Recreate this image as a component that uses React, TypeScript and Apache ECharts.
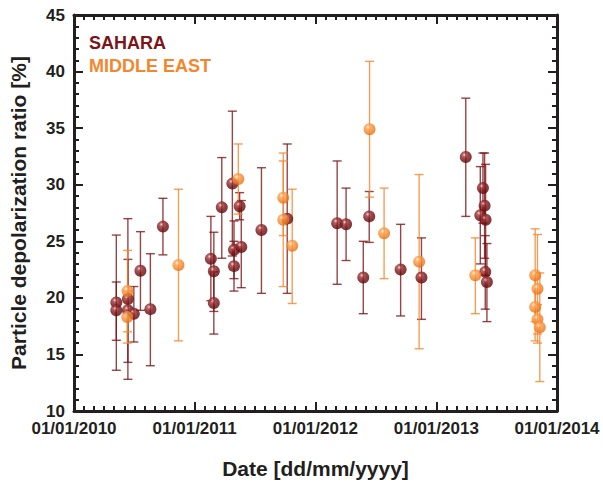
import React, { useEffect, useRef } from "react";
import * as echarts from "echarts";

// ---------- DATA ----------
const saharaDates = [
  "2010-05-09", "2010-05-09", "2010-06-13", "2010-06-13", "2010-07-01", "2010-07-21",
  "2010-08-20", "2010-09-27", "2011-02-19", "2011-02-28", "2011-02-28", "2011-03-24",
  "2011-04-25", "2011-04-30", "2011-04-30", "2011-05-17", "2011-05-22", "2011-07-22",
  "2011-10-08", "2012-03-07", "2012-04-03", "2012-05-25", "2012-06-12", "2012-09-15",
  "2012-11-17", "2013-03-31", "2013-05-14", "2013-05-22", "2013-05-27", "2013-05-30",
  "2013-05-29", "2013-06-03",
];
const saharaValues = [
  19.6, 18.9, 19.9, 18.9, 18.6, 22.4, 19.0, 26.3, 23.45, 22.35, 19.55, 28.0,
  30.1, 24.25, 22.8, 28.1, 24.5, 26.0, 27.0, 26.6, 26.5, 21.8, 27.2, 22.5,
  21.8, 32.45, 27.3, 29.7, 28.15, 26.9, 22.3, 21.4,
];
const saharaLow = [
  13.6, 16.25, 12.8, 14.3, 16.1, 18.9, 14.0, 23.8, 19.75, 18.8, 16.8, 23.5,
  23.7, 21.7, 20.6, 26.9, 20.9, 20.4, 20.4, 21.2, 23.3, 18.6, 24.9, 18.4,
  18.1, 27.2, 23.0, 26.6, 23.5, 22.0, 19.0, 17.9,
];
const saharaHigh = [
  25.55, 21.4, 27.0, 23.4, 21.0, 25.85, 23.9, 28.8, 27.2, 25.8, 22.3, 32.4,
  36.5, 26.8, 25.0, 29.3, 28.6, 31.5, 33.6, 32.1, 29.7, 25.0, 29.4, 26.5,
  25.3, 37.65, 31.6, 32.8, 32.8, 31.8, 25.5, 24.8,
];

const middleEastDates = [
  "2010-06-12", "2010-06-11", "2010-11-13", "2011-05-13", "2011-09-26", "2011-09-26",
  "2011-10-23", "2012-06-13", "2012-07-27", "2012-11-10", "2013-04-29", "2013-10-27",
  "2013-11-03", "2013-10-27", "2013-11-03", "2013-11-10",
];
const middleEastValues = [
  20.6, 18.3, 22.9, 30.5, 28.85, 26.9, 24.6, 34.9, 25.7, 23.2, 22.0, 22.0,
  20.8, 19.2, 18.1, 17.4,
];
const middleEastLow = [
  17.0, 16.0, 16.2, 27.4, 25.5, 21.0, 19.5, 28.9, 21.7, 15.5, 18.6, 17.9,
  16.0, 16.2, 16.8, 12.6,
];
const middleEastHigh = [
  24.2, 20.6, 29.6, 33.6, 32.1, 32.8, 29.6, 40.9, 29.7, 30.9, 25.3, 26.1,
  25.6, 22.2, 19.4, 22.2,
];

const yTicks = [10, 15, 20, 25, 30, 35, 40, 45];
const xMin = "2010-01-01";
const xMax = "2014-01-01";

const SAHARA = "#7d1518";
const MIDEAST = "#f5862c";
const INK = "#231f20";
const FONT = "'Liberation Sans', Arial, sans-serif";

const pad = (n: number) => (n < 10 ? "0" + n : "" + n);
const fmtDate = (v: number) => {
  const d = new Date(v);
  return pad(d.getDate()) + "/" + pad(d.getMonth() + 1) + "/" + d.getFullYear();
};

const makeErrorSeries = (name: string, dates: string[], low: number[], high: number[], color: string) => ({
  type: "custom",
  name,
  xAxisIndex: 0,
  yAxisIndex: 0,
  z: 2,
  data: dates.map((d, i) => [d, low[i], high[i]]),
  encode: { x: 0, y: [1, 2] },
  renderItem: (params: any, api: any) => {
    const x = api.value(0);
    const pLo = api.coord([x, api.value(1)]);
    const pHi = api.coord([x, api.value(2)]);
    const w = 4.5;
    const style = { stroke: color, lineWidth: 1.4, opacity: 0.8 };
    return {
      type: "group",
      children: [
        { type: "line", shape: { x1: pLo[0], y1: pLo[1], x2: pHi[0], y2: pHi[1] }, style },
        { type: "line", shape: { x1: pLo[0] - w, y1: pLo[1], x2: pLo[0] + w, y2: pLo[1] }, style },
        { type: "line", shape: { x1: pHi[0] - w, y1: pHi[1], x2: pHi[0] + w, y2: pHi[1] }, style },
      ],
    };
  },
});

const sphere = (stops: [number, string][]) =>
  new echarts.graphic.RadialGradient(
    0.38,
    0.32,
    0.72,
    stops.map(([offset, color]) => ({ offset, color }))
  );

const axisCommon = {
  axisLine: { show: true, onZero: false, lineStyle: { color: INK, width: 3 } },
  splitLine: { show: false },
};

export default function App() {
  const ref = useRef<HTMLDivElement>(null);

  useEffect(() => {
    if (!ref.current) return;
    const chart = echarts.init(ref.current, undefined, { renderer: "svg" });

    const xBase = {
      type: "time",
      min: xMin,
      max: xMax,
      minInterval: 365 * 86400000,
      maxInterval: 366 * 86400000,
      splitNumber: 4,
      ...axisCommon,
      axisTick: { show: true, inside: true, length: 9, lineStyle: { color: INK, width: 2 } },
      minorTick: { show: true, splitNumber: 12, length: 5, lineStyle: { color: INK, width: 2 } },
    };
    const yBase = {
      type: "value",
      min: yTicks[0],
      max: yTicks[yTicks.length - 1],
      interval: yTicks[1] - yTicks[0],
      ...axisCommon,
      axisTick: { show: true, inside: true, length: 9, lineStyle: { color: INK, width: 2 } },
      minorTick: { show: true, splitNumber: 5, length: 5, lineStyle: { color: INK, width: 2 } },
    };

    chart.setOption({
      animation: false,
      backgroundColor: "#ffffff",
      textStyle: { fontFamily: FONT },
      grid: { left: 72, top: 15, width: 485, height: 405, containLabel: false },
      xAxis: [
        {
          ...xBase,
          position: "bottom",
          name: "Date [dd/mm/yyyy]",
          nameLocation: "middle",
          nameGap: 47,
          nameTextStyle: { fontFamily: FONT, fontWeight: "bold", fontSize: 21, color: INK },
          axisLabel: {
            show: true,
            formatter: (v: number) => fmtDate(v),
            fontFamily: FONT,
            fontWeight: "bold",
            fontSize: 17,
            color: INK,
            margin: 9,
            showMinLabel: true,
            showMaxLabel: true,
            hideOverlap: false,
          },
        },
        { ...xBase, position: "top", axisLabel: { show: false } },
      ],
      yAxis: [
        {
          ...yBase,
          position: "left",
          name: "Particle depolarization ratio [%]",
          nameLocation: "middle",
          nameGap: 45,
          nameRotate: 90,
          nameTextStyle: { fontFamily: FONT, fontWeight: "bold", fontSize: 21, color: INK },
          axisLabel: {
            show: true,
            fontFamily: FONT,
            fontWeight: "bold",
            fontSize: 17,
            color: INK,
            margin: 9,
          },
        },
        { ...yBase, position: "right", axisLabel: { show: false } },
      ],
      graphic: [
        {
          type: "text",
          left: 89,
          top: 34,
          style: { text: "SAHARA", fill: SAHARA, fontFamily: FONT, fontWeight: "bold", fontSize: 18 },
        },
        {
          type: "text",
          left: 89,
          top: 57,
          style: { text: "MIDDLE EAST", fill: MIDEAST, fontFamily: FONT, fontWeight: "bold", fontSize: 18 },
        },
      ],
      series: [
        makeErrorSeries("Sahara error", saharaDates, saharaLow, saharaHigh, SAHARA),
        makeErrorSeries("Middle East error", middleEastDates, middleEastLow, middleEastHigh, MIDEAST),
        {
          type: "scatter",
          name: "SAHARA",
          z: 3,
          symbol: "circle",
          symbolSize: 12,
          data: saharaDates.map((d, i) => [d, saharaValues[i]]),
          itemStyle: {
            color: sphere([
              [0, "#f2cfcf"],
              [0.22, "#a03a3d"],
              [0.55, "#7a1215"],
              [1, "#560709"],
            ]),
          },
        },
        {
          type: "scatter",
          name: "MIDDLE EAST",
          z: 3,
          symbol: "circle",
          symbolSize: 12,
          data: middleEastDates.map((d, i) => [d, middleEastValues[i]]),
          itemStyle: {
            color: sphere([
              [0, "#fff0dc"],
              [0.25, "#fba24f"],
              [0.6, "#f5862c"],
              [1, "#dd6c14"],
            ]),
          },
        },
      ],
    });

    return () => chart.dispose();
  }, []);

  return (
    <div
      ref={ref}
      style={{ position: "fixed", left: 0, top: 0, width: 603, height: 484, background: "#fff" }}
    />
  );
}
